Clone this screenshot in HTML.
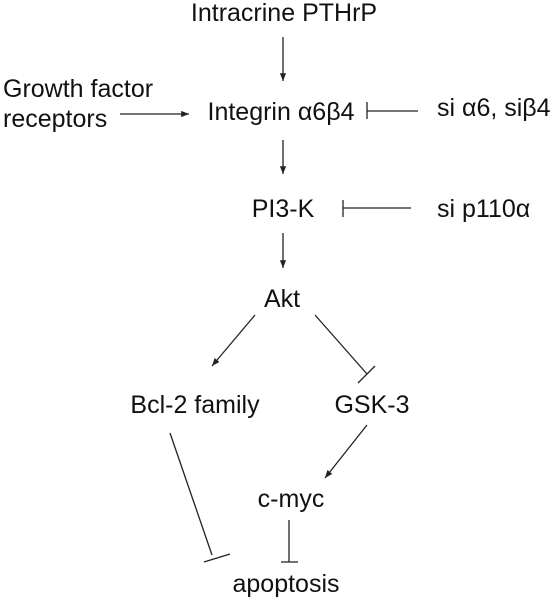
<!DOCTYPE html>
<html>
<head>
<meta charset="utf-8">
<style>
html,body{margin:0;padding:0;background:#fff;}
svg{display:block;}
text{font-family:"Liberation Sans",Arial,sans-serif;font-size:25px;fill:#111;}
line{stroke:#222;stroke-width:1.3;}
</style>
</head>
<body>
<svg width="555" height="600" viewBox="0 0 555 600">
<defs>
<marker id="ah" viewBox="0 0 10 10" refX="10" refY="5" markerWidth="6" markerHeight="6" orient="auto">
<path d="M0,1 L10,5 L0,9 z" fill="#222"/>
</marker>
</defs>

<text x="284" y="21" text-anchor="middle">Intracrine PTHrP</text>
<line x1="283" y1="37" x2="283" y2="81" marker-end="url(#ah)"/>

<text x="3" y="97">Growth factor</text>
<text x="3" y="127">receptors</text>
<line x1="120" y1="114" x2="189" y2="114" marker-end="url(#ah)"/>

<text x="281" y="120" text-anchor="middle">Integrin α6β4</text>
<line x1="367" y1="111" x2="418" y2="111"/>
<line x1="367" y1="102" x2="367" y2="119"/>
<text x="437" y="116">si α6, siβ4</text>

<line x1="283" y1="140" x2="283" y2="174" marker-end="url(#ah)"/>

<text x="283" y="217" text-anchor="middle">PI3-K</text>
<line x1="343" y1="208" x2="411" y2="208"/>
<line x1="343" y1="200" x2="343" y2="217"/>
<text x="437" y="217">si p110α</text>

<line x1="283" y1="233" x2="283" y2="268" marker-end="url(#ah)"/>

<text x="282" y="307" text-anchor="middle">Akt</text>
<line x1="255" y1="315" x2="212" y2="366" marker-end="url(#ah)"/>
<line x1="315" y1="315" x2="367" y2="374"/>
<line x1="358" y1="383" x2="375" y2="366"/>

<text x="195" y="413" text-anchor="middle">Bcl-2 family</text>
<text x="372" y="413" text-anchor="middle">GSK-3</text>

<line x1="367" y1="425" x2="325" y2="478" marker-end="url(#ah)"/>

<text x="291" y="507" text-anchor="middle">c-myc</text>

<line x1="170" y1="433" x2="212" y2="555"/>
<line x1="204" y1="562" x2="230" y2="554"/>

<line x1="289" y1="520" x2="289" y2="562"/>
<line x1="281" y1="562" x2="298" y2="562"/>

<text x="286" y="592" text-anchor="middle">apoptosis</text>
</svg>
</body>
</html>
